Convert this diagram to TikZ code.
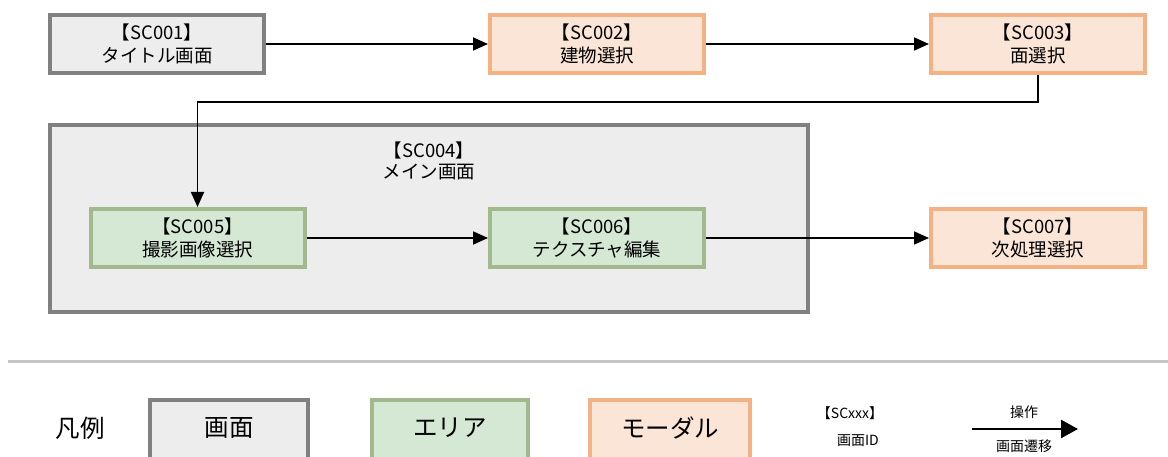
\documentclass[tikz,border=0pt]{standalone}
\usepackage{fontspec}
\setmainfont{Noto Sans CJK JP}
\usetikzlibrary{arrows.meta}
\definecolor{gfill}{HTML}{EDEDED}
\definecolor{gline}{HTML}{808080}
\definecolor{ofill}{HTML}{FBE5D6}
\definecolor{oline}{HTML}{F4B183}
\definecolor{afill}{HTML}{D5E8D4}
\definecolor{aline}{HTML}{A2B98E}
\definecolor{sepline}{HTML}{C4C4C4}
\tikzset{
  boxbase/.style={rectangle, line width=4pt, inner sep=0pt, align=center,
    minimum width=214pt, minimum height=58pt,
    font=\fontsize{18.5}{23}\selectfont},
  screenbox/.style={boxbase, draw=gline, fill=gfill},
  areabox/.style={boxbase, draw=aline, fill=afill},
  modalbox/.style={boxbase, draw=oline, fill=ofill},
  arr/.style={line width=1.8pt, -{Triangle[length=15pt,width=13pt]}},
  legendtext/.style={font=\fontsize{24.5}{28}\selectfont},
  smalltext/.style={font=\fontsize{14}{16}\selectfont},
}
\begin{document}
\begin{tikzpicture}[x=1pt,y=-1pt]
\path[use as bounding box] (0,0) rectangle (1168,457);
\clip (0,0) rectangle (1168,457);
% SC004 container
\node[screenbox, minimum width=758pt, minimum height=187pt] (sc4) at (429,218.5) {};
\node[font=\fontsize{18.5}{21}\selectfont, align=center, anchor=north] (sc4t) at (429,138) {【SC004】\\メイン画面};
% top row
\node[screenbox] (sc1) at (157,44) {【SC001】\\タイトル画面};
\node[modalbox] (sc2) at (597,44) {【SC002】\\建物選択};
\node[modalbox] (sc3) at (1038,44) {【SC003】\\面選択};
% middle row
\node[areabox] (sc5) at (197.5,238) {【SC005】\\撮影画像選択};
\node[areabox] (sc6) at (597,238) {【SC006】\\テクスチャ編集};
\node[modalbox] (sc7) at (1038,238) {【SC007】\\次処理選択};
% connectors
\draw[arr] (sc1) -- (sc2);
\draw[arr] (sc2) -- (sc3);
\draw[arr] (sc3.south) -- ++(0,27) -| (sc5.north);
\draw[arr] (sc5) -- (sc6);
\draw[arr] (sc6) -- (sc7);
% separator
\coordinate (sepL) at (8,361.5);
\coordinate (sepR) at (1168,361.5);
\draw[sepline, line width=3pt] (sepL) -- (sepR);
% legend
\node[legendtext] (lg) at (80,428) {凡例};
\node[screenbox, minimum width=158pt, minimum height=80pt, anchor=north] (lg1) at (229,398) {};
\node[legendtext] (lg1t) at (229,428) {画面};
\node[areabox, minimum width=156pt, minimum height=80pt, anchor=north] (lg2) at (450,398) {};
\node[legendtext] (lg2t) at (450,428) {エリア};
\node[modalbox, minimum width=160pt, minimum height=80pt, anchor=north] (lg3) at (670,398) {};
\node[legendtext] (lg3t) at (670,428) {モーダル};
\node[smalltext] (lg4a) at (850,413) {【SCxxx】};
\node[smalltext] (lg4b) at (858,441) {画面ID};
\coordinate (la) at (972,429);
\coordinate (lb) at (1078,429);
\draw[line width=2.6pt, -{Triangle[length=17pt,width=18pt]}] (la) -- (lb);
\node[smalltext] (lg5a) at (1024,412) {操作};
\node[smalltext] (lg5b) at (1024,446) {画面遷移};
\end{tikzpicture}
\end{document}
